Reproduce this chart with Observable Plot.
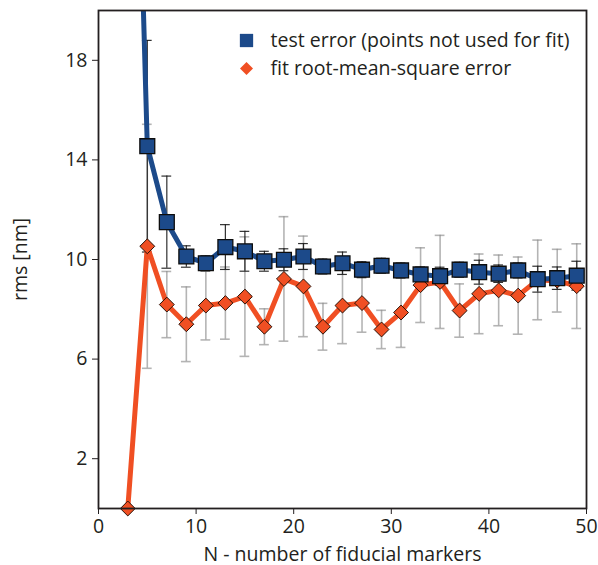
<!DOCTYPE html>
<html>
<head>
<meta charset="utf-8">
<script src="https://cdn.jsdelivr.net/npm/d3@7"></script>
<script src="https://cdn.jsdelivr.net/npm/@observablehq/plot@0.6"></script>
<style>
  html, body { margin: 0; padding: 0; background: #fff; }
  #chart { width: 598px; height: 565px; }
</style>
</head>
<body>
<div id="chart"></div>
<script>
// ---- data ----
const N = [3, 5, 7, 9, 11, 13, 15, 17, 19, 21, 23, 25, 27, 29, 31, 33, 35, 37, 39, 41, 43, 45, 47, 49];
const testError = [42, 14.55, 11.5, 10.12, 9.85, 10.5, 10.33, 9.93, 9.99, 10.12, 9.72, 9.85, 9.59, 9.75, 9.56, 9.4, 9.33, 9.59, 9.49, 9.43, 9.56, 9.21, 9.25, 9.35];
const testSd = [null, 4.25, 1.85, 0.43, 0.3, 0.9, 0.8, 0.4, 0.44, 0.52, 0.3, 0.45, 0.32, 0.3, 0.3, 0.3, 0.36, 0.3, 0.48, 0.35, 0.3, 0.52, 0.45, 0.58];
const fitError = [0, 10.53, 8.19, 7.4, 8.15, 8.25, 8.51, 7.3, 9.22, 8.92, 7.3, 8.15, 8.25, 7.19, 7.87, 8.97, 9.1, 7.95, 8.62, 8.76, 8.55, 9.18, 9.15, 8.93];
const fitSd = [null, 4.9, 1.33, 1.5, 1.38, 1.45, 2.4, 0.72, 2.5, 2.02, 0.94, 1.53, 1.17, 0.77, 1.4, 1.5, 1.87, 1.07, 1.6, 1.42, 1.55, 1.6, 1.26, 1.7];
const xTicks = [0, 10, 20, 30, 40, 50];
const yTicks = [2, 6, 10, 14, 18];
const legendLabels = ["test error (points not used for fit)", "fit root-mean-square error"];
const xLabel = "N - number of fiducial markers";
const yLabel = "rms [nm]";

// ---- table ----
const test = N.map((n, i) => ({n, v: testError[i], sd: testSd[i]}));
const fit = N.map((n, i) => ({n, v: fitError[i], sd: fitSd[i]}));
const testBars = test.filter(d => d.sd != null);
const fitBars = fit.filter(d => d.sd != null);

const BLUE = "#1c4a8a";
const ORANGE = "#f04f23";
const INK = "#231f20";
const FS = 19.5;
const capHalf = 0.5;

const errMarks = (data, color, width, opacity) => [
  Plot.ruleX(data, {x: "n", y1: d => d.v - d.sd, y2: d => d.v + d.sd, stroke: color, strokeWidth: width, strokeOpacity: opacity, clip: true}),
  Plot.ruleY(data, {y: d => d.v + d.sd, x1: d => d.n - capHalf, x2: d => d.n + capHalf, stroke: color, strokeWidth: width, strokeOpacity: opacity, clip: true}),
  Plot.ruleY(data, {y: d => d.v - d.sd, x1: d => d.n - capHalf, x2: d => d.n + capHalf, stroke: color, strokeWidth: width, strokeOpacity: opacity, clip: true})
];

const square = {draw(ctx, size) { const s = Math.sqrt(size) / 2; ctx.rect(-s, -s, 2 * s, 2 * s); }};
const diamond = {draw(ctx, size) { const s = Math.sqrt(size) / 2 * 1.05; ctx.moveTo(0, -s); ctx.lineTo(s, 0); ctx.lineTo(0, s); ctx.lineTo(-s, 0); ctx.closePath(); }};

const chart = Plot.plot({
  width: 598,
  height: 565,
  marginLeft: 98,
  marginRight: 12,
  marginTop: 10,
  marginBottom: 57,
  style: {fontFamily: "'Open Sans', sans-serif", fontSize: FS + "px", color: INK, background: "#fff"},
  x: {domain: [0, 50]},
  y: {domain: [0, 20]},
  marks: [
    ...errMarks(fitBars, "#8c8c8c", 1.6, 0.65),
    ...errMarks(testBars, "#1a1a1a", 1.2, 0.9),
    Plot.line(fit, {x: "n", y: "v", stroke: ORANGE, strokeWidth: 5, clip: true}),
    Plot.line(test, {x: "n", y: "v", stroke: BLUE, strokeWidth: 5, clip: true}),
    Plot.dot(fit, {x: "n", y: "v", symbol: diamond, r: 8, fill: ORANGE, stroke: "#2a1208", strokeWidth: 1}),
    Plot.dot(test.filter(d => d.v <= 20), {x: "n", y: "v", symbol: square, r: 8.4, fill: BLUE, stroke: "#0d0d0d", strokeWidth: 1.3}),
    Plot.frame({stroke: INK, strokeWidth: 1.8}),
    Plot.axisX({ticks: xTicks, tickSize: 6, tickPadding: 5, fontSize: FS, label: xLabel, labelAnchor: "center", labelArrow: "none", labelOffset: 52, stroke: INK}),
    Plot.axisY({ticks: yTicks, tickSize: 6, tickPadding: 5, fontSize: FS, label: yLabel, labelAnchor: "center", labelArrow: "none", labelOffset: 85, stroke: INK}),
    // legend
    Plot.dot([0], {frameAnchor: "top-left", dx: 148, dy: 30, symbol: square, r: 7.5, fill: BLUE}),
    Plot.dot([0], {frameAnchor: "top-left", dx: 148, dy: 58, symbol: diamond, r: 7, fill: ORANGE}),
    Plot.text([legendLabels[0]], {frameAnchor: "top-left", dx: 172, dy: 30, lineAnchor: "middle", text: d => d, textAnchor: "start", fill: INK, fontSize: FS}),
    Plot.text([legendLabels[1]], {frameAnchor: "top-left", dx: 172, dy: 58, lineAnchor: "middle", text: d => d, textAnchor: "start", fill: INK, fontSize: FS})
  ]
});
document.getElementById("chart").appendChild(chart);
</script>
</body>
</html>
